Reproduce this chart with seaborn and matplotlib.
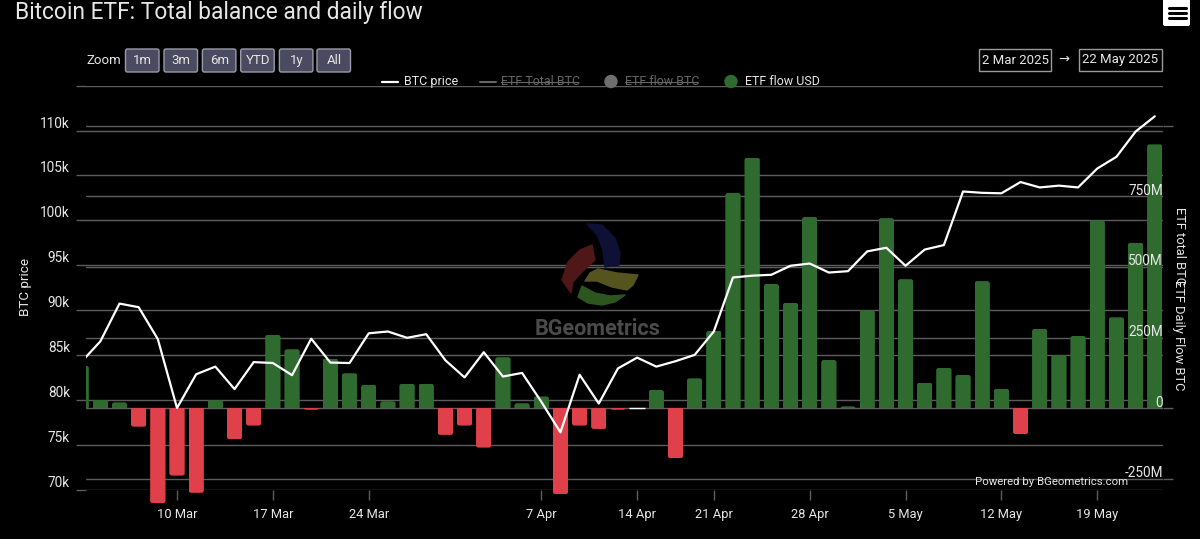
import numpy as np
import pandas as pd
import matplotlib
matplotlib.use('Agg')
import matplotlib.pyplot as plt
from matplotlib.patches import FancyBboxPatch, Rectangle, Circle, Polygon
from matplotlib.transforms import Bbox, IdentityTransform
import seaborn as sns

# Trading days only, the axis is ordinal (no 31 Mar, no 18 Apr)
dates = ['3 Mar', '4 Mar', '5 Mar', '6 Mar', '7 Mar', '10 Mar', '11 Mar', '12 Mar', '13 Mar', '14 Mar',
         '17 Mar', '18 Mar', '19 Mar', '20 Mar', '21 Mar', '24 Mar', '25 Mar', '26 Mar', '27 Mar', '28 Mar',
         '1 Apr', '2 Apr', '3 Apr', '4 Apr', '7 Apr', '8 Apr', '9 Apr', '10 Apr', '11 Apr',
         '14 Apr', '15 Apr', '16 Apr', '17 Apr', '21 Apr', '22 Apr', '23 Apr', '24 Apr', '25 Apr',
         '28 Apr', '29 Apr', '30 Apr', '1 May', '2 May', '5 May', '6 May', '7 May', '8 May', '9 May',
         '12 May', '13 May', '14 May', '15 May', '16 May', '19 May', '20 May', '21 May', '22 May']

btc_price = [84.2, 86.5, 90.7, 90.3, 86.75, 79.1, 82.85, 83.7, 81.2, 84.2,
             84.1, 82.75, 86.8, 84.15, 84.1, 87.4, 87.6, 86.9, 87.3, 84.4,
             82.5, 85.3, 82.6, 83.0, 79.8, 76.4, 82.8, 79.6, 83.5,
             84.7, 83.7, 84.3, 85.0, 87.6, 93.6, 93.8, 93.9, 94.9,
             95.15, 94.15, 94.3, 96.5, 96.9, 94.9, 96.7, 97.2, 103.15, 103.0,
             102.95, 104.2, 103.6, 103.8, 103.6, 105.7, 107.0, 109.8, 111.5]

flow_usd = [151, 31, 21, -65, -336, -238, -299, 29, -109, -61,
            260, 209, -5, 176, 124, 83, 25, 87, 87, -94,
            -61, -139, 181, 18, 42, -304, -61, -73, -5,
            0, 65, -176, 106, 274, 762, 887, 440, 373,
            677, 171, 7, 347, 673, 457, 91, 143, 118, 450,
            69, -91, 281, 188, 256, 665, 322, 586, 934]

price_ticks = [70, 75, 80, 85, 90, 95, 100, 105, 110, 115]
price_labels = ['70k', '75k', '80k', '85k', '90k', '95k', '100k', '105k', '110k', '']
flow_ticks = [-250, 0, 250, 500, 750, 1000]
flow_labels = ['-250M', '0', '250M', '500M', '750M', '']
date_ticks = ['10 Mar', '17 Mar', '24 Mar', '7 Apr', '14 Apr', '21 Apr', '28 Apr', '5 May', '12 May', '19 May']
zoom_buttons = ['1m', '3m', '6m', 'YTD', '1y', 'All']

GREEN = '#2f6b2e'
RED = '#e0404a'
GRID = '#5c5c5c'
TEXT = '#e6e6e6'
W, H = 1200, 539
PX = 0.72   # points per pixel at dpi 100

sns.set_theme(style='dark')
plt.rcParams['font.family'] = ['Roboto', 'DejaVu Sans']
plt.rcParams['figure.facecolor'] = 'black'
plt.rcParams['savefig.facecolor'] = 'black'

df = pd.DataFrame({'date': dates, 'price': btc_price, 'flow': flow_usd})
df['pos'] = np.arange(len(df))
df['side'] = np.where(df['flow'] >= 0, 'in', 'out')

fig = plt.figure(figsize=(12, 5.39), dpi=100)

rect = [86 / W, 1 - 489.7 / H, (1163 - 86) / W, (489.7 - 85.7) / H]
xlim = (0.253, 56.43)

# back axis only holds the price grid, so the bars can cover it
ax_grid = fig.add_axes(rect, zorder=1)
ax_flow = fig.add_axes(rect, zorder=2)
ax_price = fig.add_axes(rect, zorder=3)

sns.barplot(data=df, x='pos', y='flow', hue='side', dodge=False, legend=False, width=0.8,
            palette={'in': GREEN, 'out': RED}, saturation=1, ax=ax_flow)
sns.lineplot(data=df, x='pos', y='price', color='white', linewidth=1.6, ax=ax_price)

for ax in (ax_grid, ax_flow, ax_price):
    ax.set_xlim(*xlim)
    ax.set_xlabel('')
    ax.set_ylabel('')
    for spine in ax.spines.values():
        spine.set_visible(False)
    ax.grid(False)
ax_grid.set_facecolor('black')
ax_flow.patch.set_alpha(0)
ax_price.patch.set_alpha(0)

ax_grid.set_ylim(70.03, 114.9)
ax_price.set_ylim(70.03, 114.9)
ax_flow.set_ylim(-288, 1141.6)

# price grid and left ticks
ax_grid.set_yticks(price_ticks)
ax_grid.set_yticklabels(price_labels, color=TEXT, fontsize=9.8, va='bottom')
ax_grid.yaxis.grid(True, color=GRID, linewidth=1.0)
ax_grid.tick_params(axis='y', length=10 * PX, width=1.0, color=GRID, pad=6 * PX, left=True)
ax_grid.set_xticks([])

# flow grid
ax_flow.set_yticks(flow_ticks)
ax_flow.yaxis.grid(True, color=GRID, linewidth=1.0)
ax_flow.set_axisbelow(True)
ax_flow.tick_params(axis='y', left=False, right=True, labelleft=False, labelright=False,
                    length=10 * PX, width=1.0, color=GRID)
for tick, val in zip(ax_flow.yaxis.get_major_ticks(), flow_ticks):
    tick.tick2line.set_visible(val in (-250, 0, 1000))

positions = [dates.index(d) for d in date_ticks]
ax_flow.set_xticks(positions)
ax_flow.set_xticklabels(date_ticks, color=TEXT, fontsize=9.3)
ax_flow.tick_params(axis='x', bottom=True, length=10 * PX, width=1.0, color=GRID, pad=8 * PX)

ax_price.set_xticks([])
ax_price.set_yticks([])

# flow labels sit inside the plot and above the bars
for val, label in zip(flow_ticks, flow_labels):
    ax_price.annotate(label, xy=(1, val), xycoords=ax_flow.get_yaxis_transform(),
                      xytext=(0, -1), textcoords='offset points', color=TEXT, fontsize=9.8,
                      ha='right', va='bottom', annotation_clip=False)

# rounded bar tips: same bars redrawn in pixel space, base cut flat by the clip box
fig.canvas.draw()
plot_left = ax_flow.get_window_extent().x0
for bar in list(ax_flow.patches):
    box = bar.get_window_extent()
    if box.height < 0.5:
        continue
    up = bar.get_height() > 0
    y0 = box.y0 - 5 if up else box.y0
    rounded = FancyBboxPatch((box.x0, y0), box.width, box.height + 5,
                             boxstyle='round,pad=0,rounding_size=2.5',
                             facecolor=bar.get_facecolor(), edgecolor='none',
                             transform=IdentityTransform(), zorder=2.5)
    fig.add_artist(rounded)
    rounded.set_clip_on(True)
    rounded.set_clip_box(Bbox([[max(box.x0, plot_left), box.y0], [box.x1, box.y1]]))
    bar.set_visible(False)

# everything below lives in pixel coordinates of the page
page = fig.add_axes([0, 0, 1, 1], zorder=4)
page.set_xlim(0, W)
page.set_ylim(H, 0)
page.axis('off')

page.text(15, 13, 'Bitcoin ETF: Total balance and daily flow', color=TEXT, fontsize=16.4, va='center')
page.text(86, 60, 'Zoom', color=TEXT, fontsize=9.5, va='center')

button_x = [125.5, 164, 202.4, 240.7, 279.4, 317]
for bx, label in zip(button_x, zoom_buttons):
    page.add_patch(FancyBboxPatch((bx + 1, 50), 31.5, 21, boxstyle='round,pad=1,rounding_size=2',
                                  facecolor='#4a4a60', edgecolor='#9a9aa8', linewidth=1))
    page.text(bx + 17, 60.5, label, color=TEXT, fontsize=9.5, ha='center', va='center')

for x0, x1, label in [(979, 1051, '2 Mar 2025'), (1079, 1162, '22 May 2025')]:
    page.add_patch(Rectangle((x0, 49), x1 - x0, 22, facecolor='black', edgecolor='#9a9a9a', linewidth=1))
    page.text((x0 + x1) / 2, 60, label, color=TEXT, fontsize=9.5, ha='center', va='center')
page.text(1064, 59, '→', color=TEXT, fontsize=9.5, ha='center', va='center', family=['DejaVu Sans'])

page.add_patch(FancyBboxPatch((1164, -4), 25, 29, boxstyle='round,pad=1,rounding_size=2',
                              facecolor='white', edgecolor='none'))
for y in (8, 13, 18):
    page.plot([1169, 1185.5], [y, y], color='black', linewidth=2.2, solid_capstyle='round')

# legend
page.plot([382, 398], [82, 82], color='white', linewidth=1.6)
page.text(404, 81.5, 'BTC price', color=TEXT, fontsize=9, va='center')
page.plot([479.5, 495.6], [82, 82], color='#666666', linewidth=1.5)
page.text(501, 81.5, 'ETF Total BTC', color='#666666', fontsize=9, va='center')
page.plot([501, 578], [81.5, 81.5], color='#666666', linewidth=0.8)
page.add_patch(Circle((611, 81.5), 6, color='#6e6e6e'))
page.text(625, 81.5, 'ETF flow BTC', color='#666666', fontsize=9, va='center')
page.plot([625, 698], [81.5, 81.5], color='#666666', linewidth=0.8)
page.add_patch(Circle((731, 81.5), 6, color=GREEN))
page.text(745, 81.5, 'ETF flow USD', color=TEXT, fontsize=9, va='center')

# axis titles
page.text(26, 287, 'BTC price', color=TEXT, fontsize=9.7, rotation=90, ha='center', va='center')
page.text(1179, 246, 'ETF total BTC', color=TEXT, fontsize=9.3, rotation=270, ha='center', va='center')
page.text(1179, 335, 'ETF Daily Flow BTC', color=TEXT, fontsize=9.3, rotation=270, ha='center', va='center')

# watermark logo, rough outlines of the four petals
logo_parts = [
    ('#0e1035', [(587, 224), (602, 225), (615, 238), (620, 253), (619, 265), (605, 267), (603, 250), (597, 235)]),
    ('#501719', [(592, 245), (595, 260), (582, 272), (573, 282), (571, 293), (562, 280), (568, 262), (580, 250)]),
    ('#56541e', [(598, 269), (617, 273), (638, 275), (633, 285), (627, 290), (612, 287), (597, 281), (585, 281), (590, 273)]),
    ('#2c5520', [(582, 286), (595, 293), (610, 296), (625, 295), (615, 302), (602, 305), (588, 303), (578, 297)]),
]
for colour, outline in logo_parts:
    page.add_patch(Polygon(outline, closed=True, facecolor=colour, edgecolor=colour,
                           linewidth=1, joinstyle='round', zorder=0))
page.text(598, 329, 'BGeometrics', color='#4b4b4b', fontsize=15.5, fontweight='bold', ha='center', va='center')

page.text(1051.5, 482, 'Powered by BGeometrics.com', color=TEXT, fontsize=8.2, ha='center', va='center')

plt.savefig('out.png', dpi=100)
